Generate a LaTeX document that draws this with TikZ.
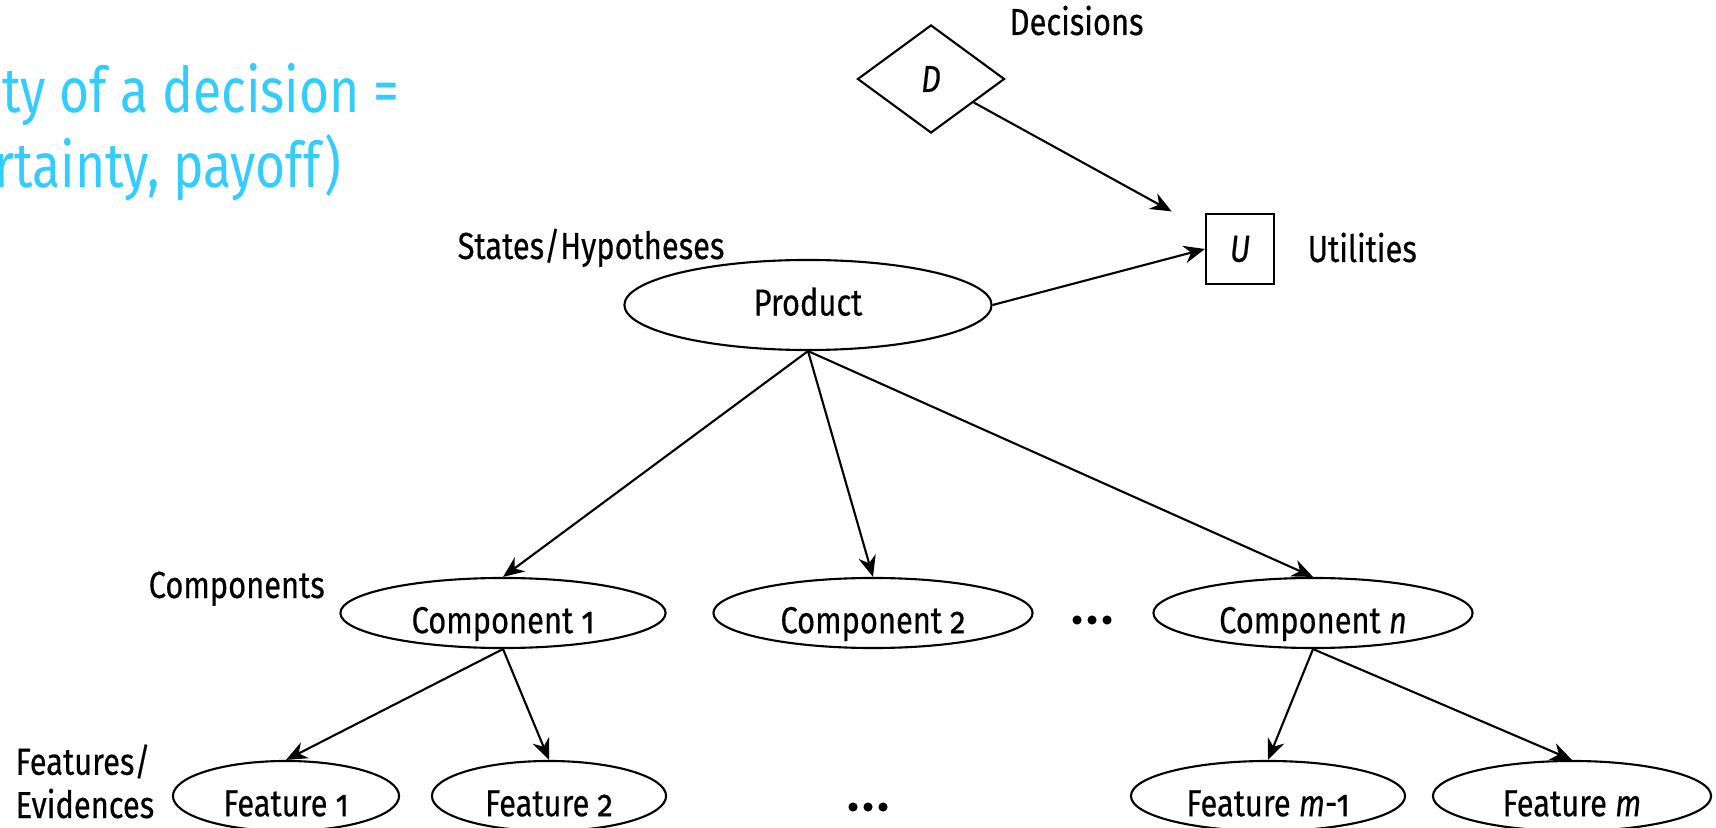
\documentclass[tikz,border=0pt]{standalone}
\usepackage{fontspec}
\setmainfont{Fira Sans}[FakeStretch=0.82,FakeBold=0.4,Numbers=OldStyle]
\newfontfamily\headfont{Fira Sans}[FakeStretch=0.82]
\usetikzlibrary{shapes.geometric}
\usetikzlibrary{arrows.meta}
\usetikzlibrary{positioning}
\definecolor{headblue}{RGB}{51,204,255}

\begin{document}
\begin{tikzpicture}[x=0.01cm,y=-0.01cm,font=\fontsize{10.7}{12.3}\selectfont]
	\tikzset{state/.style={draw,ellipse,line width=0.6pt,inner sep=0pt,minimum height=0.70cm,text height=11.5pt,text depth=0pt}}
	\tikzset{arr/.style={-{Stealth[length=6pt,width=5pt]},line width=0.6pt}}
	\tikzset{lbl/.style={anchor=base west,inner sep=0pt}}
	\tikzset{head/.style={anchor=base east,inner sep=0pt,text=headblue,font=\headfont\fontsize{17.9}{21.3}\selectfont}}
	
	% Fix the page and cut what runs over the edge
	\useasboundingbox (0,0) rectangle (1716,828);
	\clip (0,0) rectangle (1716,828);
	
	% Blue heading (cut at the left edge)
	\node[head] (head1) at (400,113) {ty of a decision =};
	\node[head] (head2) at (342,188) {rtainty, payoff)};
	
	% Decision and utility
	\node[draw,diamond,line width=0.6pt,inner sep=0pt,minimum width=1.47cm,minimum height=1.08cm] (D) at (931,79) {\textit{D}};
	\node[lbl] (declab) at (1009,35) {Decisions};
	\node[draw,line width=0.6pt,inner sep=0pt,minimum width=0.68cm,minimum height=0.70cm] (U) at (1240,249) {\textit{U}};
	\node[lbl] (utilab) at (1307,262) {Utilities};
	
	% States
	\node[state,minimum width=3.67cm,minimum height=0.90cm,text height=8pt,text depth=2pt] (prod) at (808,305) {Product};
	\node[lbl] (statelab) at (457,259) {States/Hypotheses};
	
	% Components
	\node[state,minimum width=3.25cm] (comp1) at (503,613) {Component 1};
	\node[state,minimum width=3.19cm] (comp2) at (873,613) {Component 2};
	\node[state,minimum width=3.19cm] (compn) at (1313,613) {Component \textit{n}};
	\node[lbl] (complab) at (148,598) {Components};
	
	% Features
	\node[state,minimum width=2.26cm] (feat1) at (286,796) {Feature 1};
	\node[state,minimum width=2.34cm] (feat2) at (549,796) {Feature 2};
	\node[state,minimum width=2.74cm] (featm1) at (1268,796) {Feature \textit{m}-1};
	\node[state,minimum width=2.78cm] (featm) at (1572,796) {Feature \textit{m}};
	\node[lbl,align=left] (featlab) at (15,818) {Features/\\Evidences};
	
	% Dots between the nodes
	\foreach \x in {-15,0,15}
	{
		\fill (1092+\x,620) circle (1.3pt);
		\fill (868+\x,807) circle (1.3pt);
	}
	
	% Arrows
	\draw[arr,shorten >=0.38cm] (D) -- (U);
	\draw[arr] (prod.east) -- (U.west);
	\draw[arr] (prod.south) -- (comp1.north);
	\draw[arr] (prod.south) -- (comp2.north);
	\draw[arr] (prod.south) -- (compn.north);
	\draw[arr] (comp1.south) -- (feat1.north);
	\draw[arr] (comp1.south) -- (feat2.north);
	\draw[arr] (compn.south) -- (featm1.north);
	\draw[arr] (compn.south) -- (featm.north);
	
\end{tikzpicture}
\end{document}
